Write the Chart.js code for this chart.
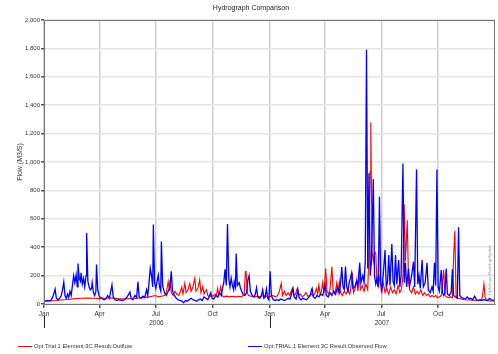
<!DOCTYPE html>
<html><head><meta charset="utf-8">
<script src="https://cdn.jsdelivr.net/npm/chart.js@4/dist/chart.umd.min.js"></script>
<style>html,body{margin:0;padding:0;background:#fff}#wrap{width:498px;height:354px}</style>
</head><body><div id="wrap"><canvas id="c" width="498" height="354"></canvas></div>
<script>
// Day index counted from 1 Jan 2006
const monthTickDays = [0, 90, 181, 273, 365, 455, 546, 638];
const monthTickLabels = ["Jan", "Apr", "Jul", "Oct", "Jan", "Apr", "Jul", "Oct"];
const yearLabels = ["2006", "2007"];
const yearLabelDays = [182, 547];
const yTicks = [0,200,400,600,800,1000,1200,1400,1600,1800,2000];

const outflowLabel = "Opt:Trial 1 Element:3C Result:Outflow";
const observedLabel = "Opt:TRIAL 1 Element:3C Result:Observed Flow";

const obsDays = [0,3,6,9,12,15,17,18,20,23,26,28,30,32,34,36,38,40,42,44,46,48,50,52,54,55,57,59,60,62,64,66,68,69,71,73,75,77,78,80,82,84,85,87,89,91,94,97,100,103,106,108,110,112,115,118,121,124,127,130,133,136,139,141,144,147,150,152,154,157,160,163,166,168,170,172,174,176,177,179,181,183,185,187,189,190,192,195,198,201,204,206,208,211,214,217,220,223,226,229,232,235,238,241,244,247,250,253,256,259,262,265,268,270,272,275,278,281,284,287,289,291,293,295,297,299,301,303,305,307,308,310,311,313,316,318,320,322,325,328,330,332,334,337,340,342,344,346,349,352,354,356,358,360,362,364,366,368,371,374,377,380,383,386,389,392,395,398,400,403,405,408,411,413,416,419,422,425,428,431,433,434,436,439,442,445,448,451,453,455,457,460,463,466,469,472,475,478,480,482,484,486,488,490,492,494,496,498,500,503,506,508,511,513,516,518,520,522,524,526,528,530,533,535,537,539,541,543,545,547,549,552,554,556,558,560,563,565,567,569,571,574,576,578,581,583,585,587,590,592,595,598,600,603,605,607,609,612,614,617,620,622,625,628,630,632,634,636,638,640,643,645,647,649,651,653,656,659,661,663,666,669,671,673,676,679,682,685,688,691,694,697,700,703,706,709,712,715,718,721,724,727,730];
const obsFlow = [20,22,25,22,30,60,90,105,40,30,45,60,100,155,60,40,70,45,90,60,130,200,150,205,120,285,180,160,220,140,180,120,200,500,160,120,100,110,150,80,60,90,278,100,60,45,40,30,35,60,40,90,135,50,30,25,30,28,25,30,40,60,85,40,30,60,45,157,50,40,55,45,100,60,150,251,200,120,560,150,110,160,204,120,90,440,130,80,60,90,120,230,90,60,40,30,25,20,10,25,20,30,40,30,25,20,30,35,25,50,40,30,60,80,40,35,60,50,80,60,110,150,244,130,563,180,120,183,130,100,157,120,355,130,150,110,90,70,60,80,170,200,90,60,50,70,115,50,40,60,100,40,50,105,40,30,230,60,30,25,30,25,35,30,25,30,40,35,60,110,50,35,100,45,30,40,35,30,45,60,100,110,50,40,60,50,70,60,90,135,60,50,80,60,90,70,120,80,150,260,120,100,263,120,90,150,183,220,110,120,160,130,290,150,200,150,300,1790,250,920,200,300,880,200,140,180,120,756,150,100,200,380,120,150,345,130,422,160,130,345,140,310,120,200,990,150,290,120,250,130,200,298,120,948,140,200,110,310,120,150,290,100,80,120,90,290,130,948,120,90,240,80,60,80,250,70,60,80,245,60,50,40,540,60,45,40,35,50,35,40,30,55,30,25,30,25,30,28,25,40,30,25,30];

const outDays = [0,10,20,30,40,50,60,70,80,90,100,110,120,130,140,150,160,170,175,180,185,190,195,198,201,203,204,206,209,212,215,218,221,223,225,228,230,233,236,238,241,244,246,249,252,254,257,259,261,263,265,268,271,274,277,279,281,283,286,288,291,295,300,305,310,315,320,324,326,327,329,331,335,340,345,350,355,360,365,370,375,378,381,384,386,389,392,395,398,400,402,404,407,410,412,415,418,421,424,427,430,433,436,439,441,443,445,447,449,451,453,456,458,461,463,466,468,471,474,476,478,480,483,486,489,492,495,497,499,501,503,506,508,510,512,515,518,521,524,526,528,529,531,533,535,537,539,541,544,546,549,552,555,558,561,564,567,570,573,576,579,581,583,585,588,590,592,595,598,601,604,607,610,613,616,619,622,625,628,631,634,637,640,643,645,647,649,652,655,658,661,663,665,667,670,675,680,690,700,708,710,712,714,716,722,730];
const outFlow = [20,22,25,30,32,38,40,42,40,38,40,42,38,35,38,40,45,50,55,60,50,55,60,80,157,90,170,80,60,90,70,60,90,120,70,147,80,100,145,90,120,180,90,110,170,80,122,70,90,100,60,50,60,55,70,60,110,60,122,60,50,55,50,55,50,55,50,70,228,230,80,60,55,50,55,50,60,55,50,60,50,60,90,145,60,90,60,80,60,90,110,60,70,110,60,70,50,60,80,55,60,70,55,80,110,70,135,70,90,150,80,250,90,70,110,263,90,70,150,80,157,80,60,90,70,100,70,120,220,80,100,170,90,220,100,130,90,140,100,370,932,1280,368,300,368,360,150,120,200,90,150,80,110,70,120,80,100,70,130,80,110,200,702,300,590,150,100,80,120,70,90,70,100,60,80,60,70,50,60,50,60,45,50,60,150,240,60,50,45,50,45,330,516,60,40,35,30,28,25,25,60,140,50,25,22,22];

const toXY = (d, v) => d.map((x, i) => ({x: x, y: v[i]}));

const FONT = '"Liberation Sans", Arial, sans-serif';

const extras = {
  id: 'extras',
  afterDraw(chart) {
    const ctx = chart.ctx, xs = chart.scales.x, ca = chart.chartArea;
    ctx.save();
    // title
    ctx.fillStyle = '#222';
    ctx.font = '7px ' + FONT;
    ctx.textAlign = 'center'; ctx.textBaseline = 'middle';
    ctx.fillText('Hydrograph Comparison', 251, 8);
    // plot frame
    ctx.strokeStyle = '#777'; ctx.lineWidth = 1;
    ctx.strokeRect(ca.left + 0.5, ca.top + 0.5, ca.right - ca.left - 1, ca.bottom - ca.top);
    // year labels
    ctx.fillStyle = '#333';
    ctx.font = '6.5px ' + FONT;
    yearLabels.forEach((t, i) => ctx.fillText(t, xs.getPixelForValue(yearLabelDays[i]), 323));
    // year start long ticks
    ctx.strokeStyle = '#222'; ctx.lineWidth = 1;
    [0, 365].forEach(d => {
      const px = Math.round(xs.getPixelForValue(d)) + 0.5;
      ctx.beginPath(); ctx.moveTo(px, 316); ctx.lineTo(px, 328); ctx.stroke();
    });
    // legend
    const items = [
      {x: 18, color: '#ff0000', text: outflowLabel},
      {x: 248, color: '#0000ff', text: observedLabel}
    ];
    ctx.textAlign = 'left'; ctx.font = '5.8px ' + FONT; ctx.fillStyle = '#333';
    items.forEach(it => {
      ctx.strokeStyle = it.color; ctx.lineWidth = 1;
      ctx.beginPath(); ctx.moveTo(it.x, 346.5); ctx.lineTo(it.x + 14, 346.5); ctx.stroke();
      ctx.fillText(it.text, it.x + 16, 346.5);
    });
    // y axis title
    ctx.save();
    ctx.translate(20, 162); ctx.rotate(-Math.PI / 2);
    ctx.font = '7px ' + FONT; ctx.fillStyle = '#333'; ctx.textAlign = 'center';
    ctx.fillText('Flow (M3/S)', 0, 0);
    ctx.restore();
    // small rotated note
    ctx.translate(490, 270); ctx.rotate(-Math.PI / 2);
    ctx.font = '4px ' + FONT; ctx.fillStyle = '#999'; ctx.textAlign = 'center';
    ctx.fillText('Hydrologic Modeling System', 0, 0);
    ctx.restore();
  }
};

new Chart(document.getElementById('c'), {
  type: 'line',
  data: {
    datasets: [
      {label: outflowLabel, data: toXY(outDays, outFlow), borderColor: '#ff0000', borderWidth: 1.1, pointRadius: 0, tension: 0, fill: false, order: 2},
      {label: observedLabel, data: toXY(obsDays, obsFlow), borderColor: '#0000ff', borderWidth: 1.3, pointRadius: 0, tension: 0, fill: false, order: 1}
    ]
  },
  options: {
    responsive: false, animation: false, devicePixelRatio: 1,
    layout: {padding: {top: 20, right: 3, left: 0, bottom: 0}},
    plugins: {legend: {display: false}, title: {display: false}, tooltip: {enabled: false}},
    scales: {
      x: {
        type: 'linear', min: 0, max: 730,
        afterBuildTicks: s => { s.ticks = monthTickDays.map(v => ({value: v})); },
        afterFit: s => { s.height = 50; },
        ticks: {
          autoSkip: false, maxRotation: 0, padding: 2,
          color: '#333', font: {family: FONT, size: 6.5},
          callback: (v, i) => monthTickLabels[i]
        },
        grid: {color: '#cfcfcf', lineWidth: 1.5, drawTicks: true, tickLength: 4, tickColor: '#555'},
        border: {color: '#555'}
      },
      y: {
        min: 0, max: 2000,
        afterBuildTicks: s => { s.ticks = yTicks.map(v => ({value: v})); },
        afterFit: s => { s.width = 44; },
        ticks: {
          color: '#333', font: {family: FONT, size: 6}, padding: 1,
          callback: v => v.toLocaleString('en-US')
        },
        grid: {color: '#e4e4e4', lineWidth: 1.5, tickLength: 3, tickColor: '#555'},
        border: {color: '#555'}
      }
    }
  },
  plugins: [extras]
});
</script>
</body></html>
